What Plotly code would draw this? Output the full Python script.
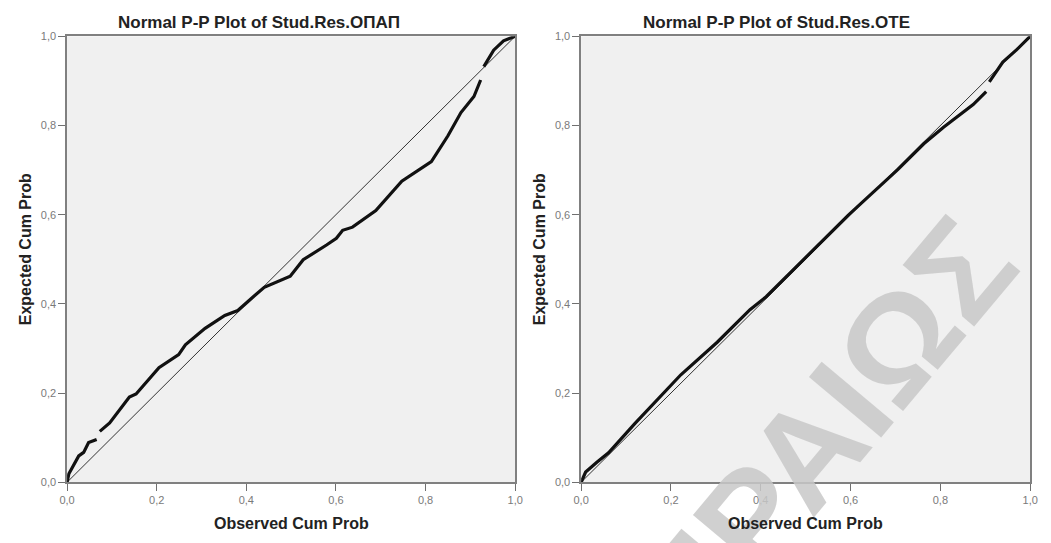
import plotly.graph_objects as go

# Normal P-P plot, studentized residuals of ΟΠΑΠ (observed vs expected cumulative probability)
opap_obs = [0.0, 0.004, 0.026, 0.037, 0.048, 0.066, None, 0.073, 0.095, 0.139, 0.154, 0.205,
            0.227, 0.249, 0.264, 0.308, 0.352, 0.381, 0.41, 0.44, 0.498, 0.527, 0.579,
            0.601, 0.615, 0.637, 0.689, 0.703, 0.747, 0.813, 0.85, 0.879, 0.908, 0.923,
            None, 0.93, 0.952, 0.974, 1.0]
opap_exp = [0.0, 0.019, 0.059, 0.067, 0.089, 0.096, None, 0.114, 0.133, 0.191, 0.198, 0.257,
            0.272, 0.286, 0.308, 0.345, 0.374, 0.385, 0.411, 0.437, 0.462, 0.499, 0.532,
            0.547, 0.565, 0.572, 0.609, 0.625, 0.675, 0.719, 0.777, 0.829, 0.865, 0.902,
            None, 0.932, 0.969, 0.99, 1.0]

# Normal P-P plot, studentized residuals of ΟΤΕ
ote_obs = [0.0, 0.010, 0.035, 0.061, 0.12, 0.222, 0.303, 0.376, 0.412, 0.49, 0.595, 0.705,
           0.763, 0.807, 0.844, 0.873, 0.902, None, 0.909, 0.939, 0.97, 1.0]
ote_exp = [0.0, 0.023, 0.045, 0.066, 0.132, 0.241, 0.314, 0.387, 0.416, 0.494, 0.599, 0.701,
           0.759, 0.796, 0.825, 0.847, 0.876, None, 0.898, 0.942, 0.97, 1.0]

diag = [0.0, 1.0]
tick_vals = [0.0, 0.2, 0.4, 0.6, 0.8, 1.0]

titles = ["Normal P-P Plot of Stud.Res.ΟΠΑΠ", "Normal P-P Plot of Stud.Res.ΟΤΕ"]
x_title = "Observed Cum Prob"
y_title = "Expected Cum Prob"
watermark = "ΠΕΙΡΑΙΩΣ"

W, H = 1051, 543
FONT = "Liberation Sans, Arial, sans-serif"

fig = go.Figure()

panels = [
    (opap_obs, opap_exp, "x", "y"),
    (ote_obs, ote_exp, "x2", "y2"),
]
for obs, exp, xa, ya in panels:
    fig.add_trace(go.Scatter(x=diag, y=diag, mode="lines", xaxis=xa, yaxis=ya,
                             line=dict(color="#333333", width=1), hoverinfo="skip"))
    fig.add_trace(go.Scatter(x=obs, y=exp, mode="lines", xaxis=xa, yaxis=ya,
                             line=dict(color="#111111", width=3.2), connectgaps=False))

# pixel placement of the two plot areas
px_left = [(60, 515), (582, 1038)]
title_cx = [255, 780]
py_top, py_bot = 31, 487
ydom = [1 - py_bot / H, 1 - py_top / H]

axis_common = dict(range=[0, 1], tickvals=tick_vals, tickformat=".1f", showgrid=False,
                   zeroline=False, showline=True, mirror=True, linecolor="#808080",
                   linewidth=1.5, ticks="outside", ticklen=7, tickcolor="#707070",
                   tickfont=dict(family=FONT, size=11, color="#7a7a7a"), fixedrange=True)

layout = dict(
    width=W, height=H, margin=dict(l=0, r=0, t=0, b=0),
    paper_bgcolor="white", plot_bgcolor="#f0f0f0", showlegend=False,
    separators=", ",
)
for i, (x0, x1) in enumerate(px_left):
    sfx = "" if i == 0 else "2"
    layout["xaxis" + sfx] = dict(domain=[x0 / W, x1 / W], anchor="y" + sfx, **axis_common)
    layout["yaxis" + sfx] = dict(domain=ydom, anchor="x" + sfx, **axis_common)
fig.update_layout(**layout)

label_font = dict(family=FONT, size=16, color="#222222")
annotations = []

# faint diagonal watermark running up to the right edge of the second plot
annotations.append(dict(text="<b>%s</b>" % watermark, x=785 / W, y=1 - 487 / H,
                        xref="paper", yref="paper", showarrow=False, textangle=-50,
                        xanchor="center", yanchor="middle",
                        font=dict(family=FONT, size=137, color="rgba(200,200,200,0.85)")))

for i, (x0, x1) in enumerate(px_left):
    cx = (x0 + x1) / 2
    annotations.append(dict(text="<b>%s</b>" % titles[i], x=title_cx[i] / W, y=1 - 17 / H,
                            xref="paper", yref="paper", showarrow=False, xanchor="center",
                            yanchor="middle", font=dict(family=FONT, size=17, color="#222222")))
    annotations.append(dict(text="<b>%s</b>" % x_title, x=cx / W, y=1 - 529 / H,
                            xref="paper", yref="paper", showarrow=False, xanchor="center",
                            yanchor="middle", font=label_font))
    annotations.append(dict(text="<b>%s</b>" % y_title, x=(x0 - 42) / W, y=1 - 249 / H,
                            xref="paper", yref="paper", showarrow=False, xanchor="center",
                            yanchor="middle", textangle=-90, font=label_font))

fig.update_layout(annotations=annotations)

fig.write_html("out.html")
